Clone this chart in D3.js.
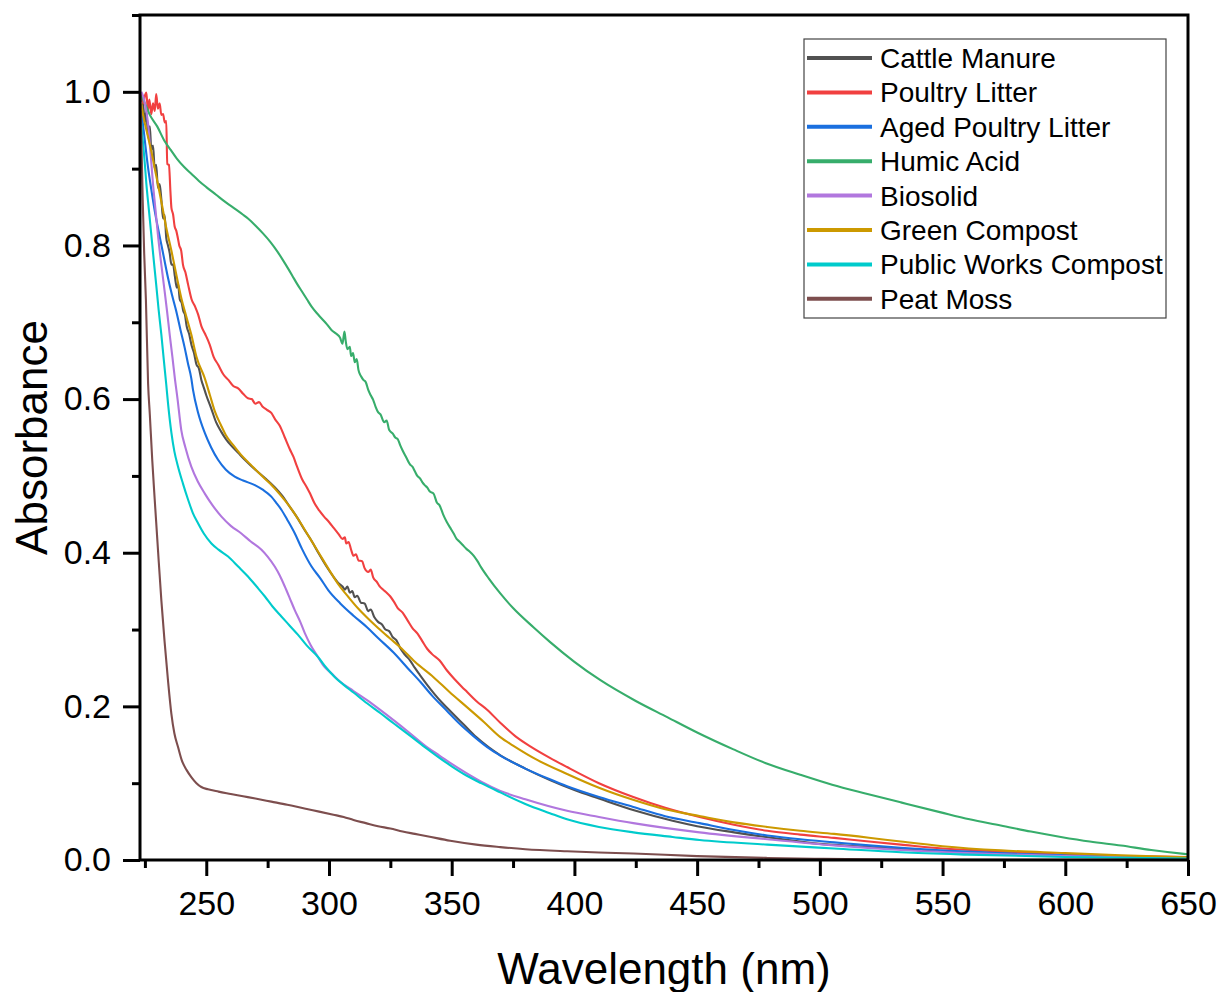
<!DOCTYPE html>
<html>
<head>
<meta charset="utf-8">
<script src="https://cdn.jsdelivr.net/npm/d3@7"></script>
<style>
  body { margin: 0; background: #fff; }
  svg { display: block; font-family: "Liberation Sans", Arial, sans-serif; }
</style>
</head>
<body>
<svg id="chart" width="1221" height="992"></svg>
<script>
// series names + colours (legend order = draw order)
var seriesNames = ["Cattle Manure", "Poultry Litter", "Aged Poultry Litter", "Humic Acid",
                   "Biosolid", "Green Compost", "Public Works Compost", "Peat Moss"];
var seriesColors = ["#515151", "#F14040", "#1A6FDF", "#37AD6B", "#B177DE", "#CC9900", "#00CBCC", "#7D4E4E"];

var xTicks = [250, 300, 350, 400, 450, 500, 550, 600, 650];
var xMinor = [225, 275, 325, 375, 425, 475, 525, 575, 625];
var yTicks = [0, 0.2, 0.4, 0.6, 0.8, 1.0];
var yMinor = [0.1, 0.3, 0.5, 0.7, 0.9, 1.1];

// [wavelength nm, absorbance]
var cattleManure = [[223.5,0.99],[224.2,0.985],[225,0.96],[225.6,0.975],[226.3,0.94],[227,0.955],[227.6,0.925],[228.3,0.93],[229,0.9],[229.6,0.905],[230.3,0.875],[231,0.88],[231.7,0.86],[232.4,0.835],[233,0.84],[233.7,0.81],[234.4,0.8],[235.1,0.79],[235.8,0.775],[236.5,0.775],[237.2,0.76],[238,0.745],[238.5,0.75],[239.2,0.73],[240,0.725],[240.6,0.715],[241.3,0.71],[242,0.695],[243,0.685],[244,0.67],[245,0.66],[246,0.645],[247,0.64],[248,0.625],[249,0.615],[250,0.605],[252,0.588],[254,0.57],[256,0.558],[258,0.548],[260,0.54],[263,0.53],[266,0.52],[270,0.508],[274,0.497],[278,0.485],[281,0.474],[284,0.46],[287,0.446],[290,0.43],[293,0.415],[296,0.398],[299,0.382],[302,0.368],[304,0.36],[305.5,0.356],[306.5,0.352],[307.5,0.356],[308.5,0.348],[309.5,0.35],[310.5,0.342],[311.5,0.344],[313,0.335],[314.5,0.334],[316,0.324],[317,0.326],[318.5,0.316],[320,0.31],[321.5,0.307],[323,0.3],[324.5,0.298],[326,0.29],[327.5,0.286],[329,0.276],[331,0.267],[333,0.26],[335,0.25],[337,0.241],[340,0.228],[343,0.216],[346,0.205],[350,0.192],[355,0.176],[360,0.16],[365,0.147],[370,0.136],[380,0.119],[390,0.104],[400,0.091],[410,0.08],[425,0.064],[440,0.051],[450,0.044],[465,0.036],[480,0.029],[500,0.021],[520,0.017],[540,0.013],[560,0.01],[580,0.008],[600,0.006],[625,0.004],[650,0.003]];

var poultryLitter = [[223.5,0.997],[224.3,0.985],[225,0.995],[225.6,0.999],[226.2,0.975],[226.8,0.99],[227.6,0.971],[228.3,0.985],[229,0.975],[229.6,0.997],[230.3,0.978],[231,0.985],[231.7,0.97],[232.4,0.971],[233.1,0.96],[233.7,0.962],[234.1,0.906],[234.8,0.905],[235.4,0.87],[235.8,0.849],[236.5,0.84],[237.1,0.825],[237.8,0.819],[238.4,0.81],[239,0.8],[239.8,0.793],[240.5,0.775],[241.5,0.765],[242.6,0.749],[244,0.73],[245.5,0.72],[246.7,0.71],[248,0.695],[249.5,0.685],[251.4,0.671],[253,0.655],[254.8,0.645],[257,0.632],[259,0.625],[261,0.617],[263,0.614],[265,0.607],[267,0.601],[268.5,0.6],[270,0.594],[271.5,0.596],[273,0.59],[274.7,0.586],[276.5,0.582],[278,0.574],[280,0.565],[282,0.55],[284,0.535],[285.5,0.525],[287,0.512],[289,0.496],[291,0.485],[292.3,0.477],[294,0.465],[296,0.455],[298,0.447],[300,0.44],[302,0.432],[304,0.424],[305.5,0.418],[306.5,0.42],[307,0.412],[308,0.414],[309,0.404],[310,0.396],[311,0.398],[312,0.39],[313.5,0.389],[314.5,0.38],[316,0.375],[317,0.378],[318,0.368],[319.5,0.362],[320.5,0.357],[322,0.352],[323.5,0.348],[325,0.343],[326.5,0.336],[328,0.328],[330,0.322],[332,0.312],[334,0.302],[336,0.295],[338,0.285],[340,0.275],[342,0.268],[345,0.26],[348,0.247],[351,0.236],[354,0.226],[356.2,0.219],[360,0.207],[364.3,0.196],[370,0.178],[376,0.161],[382,0.148],[390,0.133],[397,0.121],[410,0.1],[424,0.082],[437,0.068],[451,0.056],[465,0.046],[478.6,0.038],[492,0.033],[505.8,0.0288],[520,0.024],[533,0.02],[550,0.015],[575,0.011],[600,0.007],[625,0.005],[650,0.004]];

var agedPoultryLitter = [[223.5,0.975],[224.2,0.958],[225.2,0.93],[226.3,0.901],[227.6,0.873],[229,0.845],[230.3,0.823],[231.7,0.801],[233,0.78],[234.4,0.758],[236,0.736],[237.8,0.714],[239.5,0.69],[241.2,0.667],[242.5,0.647],[243.9,0.627],[244.6,0.612],[246.7,0.582],[249.4,0.556],[252,0.537],[254.8,0.521],[258,0.508],[261.6,0.499],[265,0.494],[269.8,0.488],[273,0.482],[276.5,0.473],[278.5,0.465],[280.6,0.456],[283,0.443],[286.1,0.425],[289,0.405],[292.9,0.382],[296.4,0.367],[300,0.35],[304.6,0.334],[310,0.318],[315.5,0.303],[320,0.289],[326.3,0.27],[332,0.25],[337.2,0.232],[342,0.214],[348.1,0.194],[353,0.178],[359,0.161],[365.8,0.144],[369.8,0.136],[380,0.119],[390,0.105],[397,0.096],[410,0.082],[424,0.069],[437,0.057],[451,0.048],[465,0.039],[478.6,0.032],[492,0.027],[505.8,0.023],[520,0.019],[533,0.016],[560,0.011],[600,0.006],[625,0.004],[650,0.003]];

var humicAcid = [[223.5,0.995],[225,0.985],[227,0.97],[230,0.955],[233,0.936],[235.6,0.924],[238,0.913],[241,0.902],[244,0.893],[247,0.884],[250,0.876],[254,0.866],[258,0.856],[262,0.847],[265,0.84],[267,0.835],[270,0.826],[273,0.816],[276,0.805],[279,0.792],[282,0.777],[285,0.761],[287,0.75],[289,0.74],[291,0.73],[293,0.72],[295,0.712],[297,0.705],[299,0.698],[301,0.69],[303,0.685],[304.5,0.68],[305.5,0.672],[306.3,0.688],[306.8,0.676],[307.5,0.665],[308.5,0.668],[309,0.656],[309.8,0.66],[310.5,0.648],[311.3,0.652],[312,0.638],[313,0.63],[314,0.625],[315,0.622],[316,0.612],[317,0.605],[318,0.599],[319,0.59],[320,0.583],[321,0.58],[322.5,0.57],[323.5,0.572],[324.5,0.56],[326,0.555],[327,0.55],[328,0.548],[329,0.54],[330,0.533],[331.5,0.524],[333,0.515],[334,0.512],[335,0.506],[336,0.5],[337,0.497],[338,0.492],[339,0.488],[340,0.485],[341,0.48],[342.6,0.477],[344,0.465],[345,0.462],[346.5,0.45],[348,0.44],[349.5,0.432],[350.8,0.425],[352,0.418],[353,0.415],[354.5,0.41],[356,0.405],[357.5,0.401],[359,0.396],[360.5,0.389],[362,0.381],[365,0.367],[369.8,0.347],[375,0.328],[383.3,0.303],[390,0.284],[400,0.258],[410.6,0.234],[425,0.207],[437.8,0.186],[450,0.166],[464.8,0.144],[478,0.126],[492,0.111],[505,0.098],[519.4,0.086],[533,0.075],[549.3,0.062],[561,0.053],[573.7,0.045],[586,0.037],[598.2,0.03],[610,0.024],[622.7,0.0188],[635,0.013],[648.4,0.008],[650,0.0075]];

var biosolid = [[223.5,1.0],[224.2,0.995],[225,0.985],[226.3,0.958],[227.3,0.92],[228.3,0.88],[229.3,0.847],[230.3,0.814],[231.5,0.78],[232.7,0.749],[234,0.715],[235.1,0.684],[236.2,0.655],[237.2,0.627],[238.3,0.6],[239.8,0.56],[241.5,0.537],[243.9,0.512],[246.5,0.493],[249.4,0.477],[252.5,0.462],[256.2,0.447],[260,0.435],[264.3,0.425],[268,0.415],[272.5,0.404],[275,0.395],[277.9,0.382],[280,0.37],[282,0.356],[284,0.341],[286.1,0.325],[288.3,0.31],[290.2,0.295],[292.5,0.28],[295.6,0.264],[298,0.252],[301,0.243],[304.6,0.232],[310,0.22],[315.5,0.208],[321,0.195],[326.3,0.182],[333,0.165],[339.9,0.147],[345,0.136],[350,0.125],[356,0.113],[362,0.102],[369.8,0.09],[380,0.079],[397,0.064],[410,0.056],[424,0.048],[451,0.036],[478.6,0.027],[505.8,0.019],[533,0.013],[560,0.009],[600,0.005],[650,0.002]];

var greenCompost = [[223.5,0.985],[224.2,0.971],[226,0.945],[227.6,0.923],[229,0.9],[230.3,0.88],[232,0.852],[233.7,0.823],[235.8,0.793],[237.8,0.762],[239.8,0.732],[242,0.706],[243.9,0.684],[246,0.655],[249.4,0.627],[251.5,0.605],[253.5,0.584],[256,0.566],[258,0.553],[261,0.54],[264,0.528],[268,0.515],[272,0.502],[276,0.49],[280,0.476],[284,0.46],[288,0.441],[292,0.42],[296,0.399],[300,0.378],[304,0.358],[308,0.342],[312,0.327],[316,0.314],[320,0.302],[325,0.288],[329,0.277],[335,0.258],[342.6,0.238],[349,0.219],[356.2,0.199],[363,0.18],[369.8,0.16],[375,0.149],[385,0.13],[397,0.112],[410,0.094],[424.2,0.078],[437,0.066],[451.4,0.057],[465,0.049],[478.6,0.043],[492,0.038],[505.8,0.034],[520,0.029],[533,0.024],[550,0.018],[573.7,0.0125],[600,0.009],[622.7,0.006],[650,0.0035]];

var publicWorksCompost = [[223.5,0.96],[224.2,0.935],[225,0.905],[225.6,0.88],[226.6,0.847],[227.6,0.814],[228.6,0.781],[229.6,0.749],[230.6,0.716],[231.7,0.684],[232.7,0.651],[233.7,0.619],[234.4,0.595],[235.8,0.556],[237,0.532],[238.5,0.512],[240.5,0.49],[242.6,0.469],[244.5,0.452],[246.7,0.438],[249,0.425],[252.1,0.412],[255,0.404],[258.9,0.395],[263,0.382],[267,0.369],[270.5,0.356],[273.9,0.343],[277,0.33],[280.6,0.317],[284,0.305],[287.4,0.293],[291,0.279],[295.6,0.264],[299,0.25],[302.4,0.238],[306,0.228],[310,0.218],[315.5,0.204],[321,0.191],[326.3,0.178],[333,0.162],[339.9,0.145],[345,0.133],[350,0.122],[356,0.11],[362,0.1],[369.8,0.088],[380,0.073],[390,0.061],[397,0.053],[410,0.043],[424,0.036],[440,0.03],[451,0.026],[478.6,0.02],[505.8,0.015],[533,0.01],[560,0.007],[600,0.004],[650,0.002]];

var peatMoss = [[223,1.0],[223.5,0.95],[224.1,0.86],[224.7,0.79],[225.4,0.73],[226.3,0.62],[227,0.58],[228,0.52],[229,0.469],[230.3,0.405],[231.7,0.338],[233,0.285],[234.4,0.234],[235.8,0.19],[237,0.165],[238.5,0.147],[240,0.13],[242,0.117],[243.9,0.108],[246,0.1],[248,0.095],[250.7,0.092],[255,0.089],[260,0.086],[265,0.083],[270,0.08],[276.5,0.076],[283,0.072],[290,0.067],[296,0.063],[301.8,0.059],[306,0.056],[310,0.052],[315,0.048],[320,0.044],[325,0.041],[330,0.037],[335,0.034],[340,0.031],[349.4,0.025],[360,0.02],[369.8,0.0168],[380,0.014],[397,0.0113],[410,0.0098],[424,0.0085],[450,0.005],[478.7,0.0027],[500,0.0015],[530,0.0005],[560,0.0003],[600,0.0002],[650,0.0001]];

var allSeries = [cattleManure, poultryLitter, agedPoultryLitter, humicAcid,
                 biosolid, greenCompost, publicWorksCompost, peatMoss];

// plot box in page pixels (plotTop, not "top" - that one is window.top)
var plotLeft = 140, plotRight = 1188, plotTop = 15, plotBottom = 860;

var svg = d3.select("#chart");

var x = d3.scaleLinear().domain([223, 650]).range([plotLeft, plotRight]);
var y = d3.scaleLinear().domain([0, 1.1]).range([plotBottom, plotTop]);

svg.append("defs").append("clipPath").attr("id", "plotclip")
    .append("rect")
    .attr("x", plotLeft).attr("y", plotTop)
    .attr("width", plotRight - plotLeft).attr("height", plotBottom - plotTop);

/* curves */
var line = d3.line()
    .curve(d3.curveMonotoneX)
    .x(function(d){ return x(d[0]); })
    .y(function(d){ return y(d[1]); });

svg.append("g").attr("clip-path", "url(#plotclip)")
    .selectAll("path")
    .data(allSeries)
    .enter()
    .append("path")
    .attr("d", line)
    .attr("fill", "none")
    .attr("stroke", function(d, i){ return seriesColors[i]; })
    .attr("stroke-width", 2.1)
    .attr("stroke-linejoin", "round");

/* axes */
function styleAxis(g){
    g.select(".domain").remove();
    g.selectAll("line").attr("stroke", "#000").attr("stroke-width", 3);
    g.selectAll("text").attr("font-size", 34).attr("fill", "#000")
        .attr("font-family", "'Liberation Sans', Arial, sans-serif");
}

svg.append("g")
    .attr("transform", "translate(0," + plotBottom + ")")
    .call(d3.axisBottom(x).tickValues(xTicks).tickSize(16).tickPadding(15).tickFormat(d3.format("d")))
    .call(styleAxis);

svg.append("g")
    .attr("transform", "translate(0," + plotBottom + ")")
    .call(d3.axisBottom(x).tickValues(xMinor).tickSize(8).tickFormat(""))
    .call(styleAxis);

svg.append("g")
    .attr("transform", "translate(" + plotLeft + ",0)")
    .call(d3.axisLeft(y).tickValues(yTicks).tickSize(17).tickPadding(12).tickFormat(d3.format(".1f")))
    .call(styleAxis);

svg.append("g")
    .attr("transform", "translate(" + plotLeft + ",0)")
    .call(d3.axisLeft(y).tickValues(yMinor).tickSize(8).tickFormat(""))
    .call(styleAxis);

// frame
svg.append("rect")
    .attr("x", plotLeft).attr("y", plotTop)
    .attr("width", plotRight - plotLeft).attr("height", plotBottom - plotTop)
    .attr("fill", "none")
    .attr("stroke", "#000")
    .attr("stroke-width", 3);

/* axis titles */
svg.append("text")
    .attr("x", (plotLeft + plotRight) / 2)
    .attr("y", 984)
    .attr("text-anchor", "middle")
    .attr("font-size", 44)
    .text("Wavelength (nm)");

svg.append("text")
    .attr("transform", "translate(47," + ((plotTop + plotBottom) / 2) + ") rotate(-90)")
    .attr("text-anchor", "middle")
    .attr("font-size", 44)
    .text("Absorbance");

/* legend */
var legend = svg.append("g").attr("transform", "translate(804,39)");

legend.append("rect")
    .attr("width", 362).attr("height", 279)
    .attr("fill", "#fff")
    .attr("stroke", "#444")
    .attr("stroke-width", 1.2);

var rows = legend.selectAll("g.row")
    .data(seriesNames)
    .enter()
    .append("g")
    .attr("class", "row")
    .attr("transform", function(d, i){ return "translate(0," + (19 + i * 34.4) + ")"; });

rows.append("line")
    .attr("x1", 3).attr("x2", 68)
    .attr("stroke", function(d, i){ return seriesColors[i]; })
    .attr("stroke-width", 4);

rows.append("text")
    .attr("x", 76)
    .attr("y", 10)
    .attr("font-size", 28)
    .text(function(d){ return d; });
</script>
</body>
</html>
